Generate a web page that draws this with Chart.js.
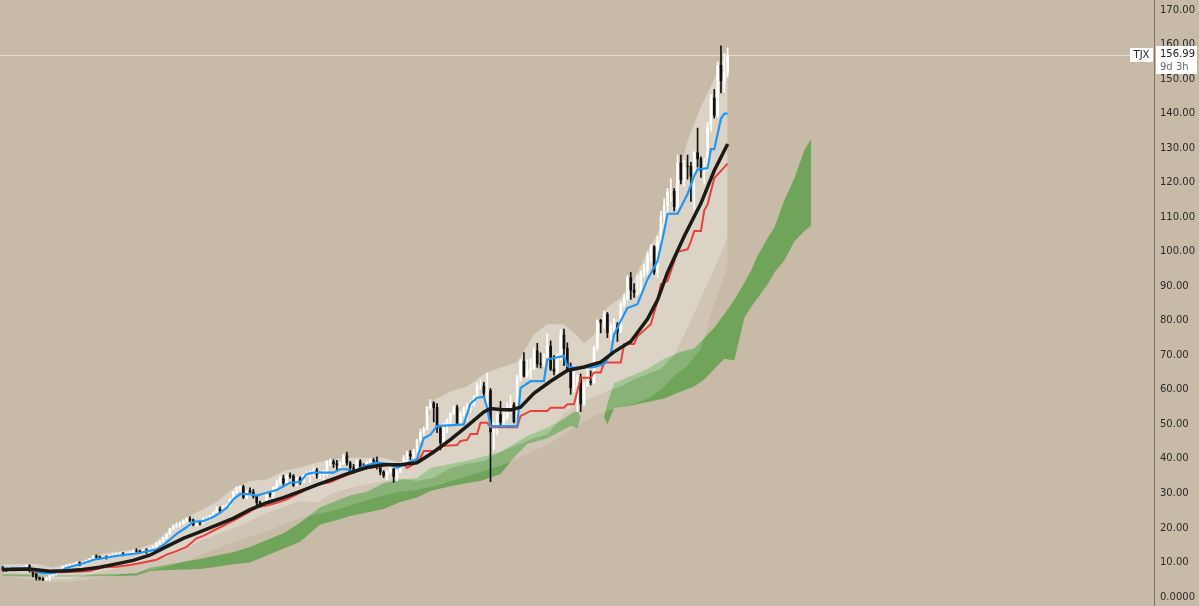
<!DOCTYPE html>
<html>
<head>
<meta charset="utf-8">
<script src="https://cdn.jsdelivr.net/npm/chart.js@4.4.1/dist/chart.umd.min.js"></script>
<style>
html,body{margin:0;padding:0;background:#c7baa6;overflow:hidden}
canvas{display:block}
</style>
</head>
<body>
<canvas id="c" width="1199" height="606"></canvas>
<script>
// ---- DATA (monthly bars) ----
const symbol = 'TJX';
const lastPrice = 156.99;
const countdown = '9d 3h';
const yTicks = [0,10,20,30,40,50,60,70,80,90,100,110,120,130,140,150,160,170];

const barOpen = [
8.6,7.9,7.7,8.3,8.1,8.0,7.9,8.4,9.0,7.6,6.7,5.6,
5.2,5.0,5.5,6.2,6.6,7.3,7.8,8.8,9.1,9.4,9.4,9.9,
9.3,9.8,10.5,11.0,11.8,11.6,11.3,11.6,11.4,12.0,12.2,12.3,
12.5,12.3,12.6,12.8,13.4,13.3,12.9,13.5,13.4,13.8,14.6,15.4,
16.1,17.0,18.2,19.8,20.6,21.1,21.3,22.0,22.6,22.3,20.9,21.6,
21.4,22.6,22.7,23.5,24.5,25.4,25.1,26.2,26.5,28.3,30.4,31.6,
31.9,28.9,30.8,30.4,29.2,27.3,26.8,26.8,29.9,29.7,31.7,33.1,
34.3,33.0,35.2,35.0,32.4,34.4,33.2,35.0,35.6,35.8,36.7,35.4,
35.6,35.6,39.2,39.2,38.6,38.2,38.6,41.0,38.8,37.4,37.0,39.2,
37.6,37.4,39.2,39.6,39.4,37.8,36.2,35.2,36.2,37.0,34.9,36.3,
38.2,40.2,41.4,40.8,42.4,45.2,47.6,48.6,54.9,56.1,54.9,48.9,
44.7,49.7,51.3,53.2,54.9,50.4,52.9,54.5,55.0,55.7,57.6,61.1,
61.1,59.0,59.8,47.8,49.0,52.8,50.6,52.0,54.8,55.7,50.8,63.5,
68.3,64.0,65.6,66.2,71.3,67.5,67.4,68.8,72.6,66.0,65.4,69.4,
75.9,72.0,66.0,60.6,61.3,63.6,55.9,61.2,62.4,62.1,72.2,80.1,
79.6,81.9,76.6,78.4,78.8,76.8,84.8,86.5,92.5,88.9,88.1,88.1,
93.8,94.9,99.1,101.4,94.1,103.1,110.1,113.2,117.3,117.5,113.0,125.7,
120.8,124.8,124.7,121.8,128.7,126.9,123.5,124.5,136.8,144.5,139.5,154.0,
149.5,152.0];

const barHigh = [
8.9,8.2,8.5,8.6,8.5,8.2,8.8,9.3,9.4,7.9,6.9,5.8,
5.6,5.7,6.4,6.9,7.5,8.0,9.0,9.3,9.6,9.7,10.1,10.2,
10.0,10.7,11.2,12.0,12.2,11.9,11.8,11.9,12.2,12.6,12.7,12.8,
12.9,12.9,13.1,13.7,14.0,13.6,13.8,14.0,14.2,14.9,15.6,16.3,
17.3,18.4,20.0,20.9,21.6,21.8,22.4,23.0,23.3,22.6,21.9,22.0,
23.0,23.2,23.7,24.7,26.2,26.1,26.5,27.0,28.6,30.6,32.0,32.2,
32.4,31.0,31.6,31.2,29.4,27.8,27.4,30.2,30.6,32.0,33.9,35.0,
35.3,35.5,36.0,35.5,34.8,34.8,35.4,36.3,36.6,37.4,37.3,36.0,
36.6,39.6,40.0,39.8,39.6,39.0,41.4,42.0,39.3,38.4,39.8,39.8,
38.6,39.4,40.0,40.2,40.6,38.2,36.6,36.6,37.6,37.3,36.8,38.9,
41.0,42.3,42.4,42.8,45.6,48.6,49.2,55.2,57.2,56.6,56.0,49.4,
50.4,51.6,53.4,55.3,55.6,53.6,55.2,56.2,56.8,58.4,62.0,62.9,
62.2,64.9,60.4,50.5,53.4,56.7,53.6,56.2,58.4,56.3,64.2,68.8,
70.8,68.6,69.0,72.2,73.5,70.7,70.4,76.3,74.2,69.9,70.6,77.5,
77.6,73.6,67.8,66.2,64.3,64.6,62.2,66.4,65.5,72.6,80.3,80.4,
82.9,82.4,79.4,80.6,79.5,85.4,87.6,93.1,94.0,90.8,93.2,94.4,
96.4,100.0,102.0,101.8,104.5,111.7,115.3,118.3,121.1,118.3,128.0,128.0,
126.4,128.0,125.9,129.0,135.8,127.5,127.0,137.5,145.5,147.0,155.0,159.6,
157.5,159.0];

const barLow = [
7.5,7.4,7.3,7.8,7.8,7.6,7.6,8.2,7.2,5.8,4.9,4.9,
4.7,4.8,4.8,6.0,6.4,7.1,7.6,8.6,8.8,9.0,9.2,9.1,
9.2,9.6,10.3,10.9,10.8,11.0,11.0,11.0,11.3,11.8,11.9,12.0,
11.9,12.1,12.3,12.7,13.0,12.7,12.8,12.6,13.1,13.3,14.4,15.2,
15.9,16.9,18.1,19.4,20.1,20.3,21.0,21.6,21.8,20.6,20.5,20.9,
21.3,21.9,22.5,23.2,24.3,24.3,24.9,25.6,26.3,28.0,30.1,30.9,
28.5,28.4,29.8,28.6,26.5,26.2,25.9,26.6,29.0,27.9,31.4,32.6,
32.1,32.8,34.4,32.0,32.2,32.6,33.0,34.8,33.2,35.0,34.4,34.3,
33.3,35.0,38.0,37.5,36.8,37.0,38.4,38.2,36.8,35.8,36.2,37.3,
36.9,37.2,38.6,38.5,37.0,35.4,34.6,33.9,35.7,33.2,33.7,36.0,
37.9,37.8,39.8,39.5,42.0,44.8,46.8,48.4,54.2,50.7,47.6,42.6,
44.5,47.6,49.8,52.8,50.0,49.9,52.4,51.1,53.5,55.2,57.4,60.2,
58.1,55.6,33.4,42.7,46.9,49.2,48.9,51.4,53.2,50.4,50.2,62.5,
63.7,63.5,63.2,66.0,66.5,66.3,66.8,68.0,65.6,64.3,64.6,68.6,
67.0,65.2,58.7,59.4,53.7,53.7,55.5,61.0,61.4,61.8,71.4,76.5,
77.9,75.1,74.6,76.7,74.0,76.6,84.0,85.9,86.2,86.8,87.5,87.6,
92.6,93.4,97.0,93.4,92.6,102.0,106.0,110.7,114.5,111.8,112.1,119.6,
119.0,121.0,114.6,112.1,124.5,121.5,119.6,123.5,135.0,138.7,139.0,146.0,
146.2,150.5];

const barClose = [
7.9,7.7,8.3,8.1,8.0,7.9,8.4,9.0,7.6,6.7,5.6,5.2,
5.0,5.5,6.2,6.6,7.3,7.8,8.8,9.1,9.4,9.4,9.9,9.3,
9.8,10.5,11.0,11.8,11.6,11.3,11.6,11.4,12.0,12.2,12.3,12.5,
12.3,12.6,12.8,13.4,13.3,12.9,13.5,13.4,13.8,14.6,15.4,16.1,
17.0,18.2,19.8,20.6,21.1,21.3,22.0,22.6,22.3,20.9,21.6,21.4,
22.6,22.7,23.5,24.5,25.4,25.1,26.2,26.5,28.3,30.4,31.6,31.9,
28.9,30.8,30.4,29.2,27.3,26.8,26.8,29.9,29.7,31.7,33.1,34.3,
33.0,35.2,35.0,32.4,34.4,33.2,35.0,35.6,35.8,36.7,35.4,35.6,
35.6,39.2,39.2,38.6,38.2,38.6,41.0,38.8,37.4,37.0,39.2,37.6,
37.4,39.2,39.6,39.4,37.8,36.2,35.2,36.2,37.0,34.9,36.3,38.2,
40.2,41.4,40.8,42.4,45.2,47.6,48.6,54.9,56.1,54.9,48.9,44.7,
49.7,51.3,53.2,54.9,50.4,52.9,54.5,55.0,55.7,57.6,61.1,61.1,
59.0,59.8,47.8,49.0,52.8,50.6,52.0,54.8,55.7,50.8,63.5,68.3,
64.0,65.6,66.2,71.3,67.5,67.4,68.8,72.6,66.0,65.4,69.4,75.9,
72.0,66.0,60.6,61.3,63.6,55.9,61.2,62.4,62.1,72.2,80.1,79.6,
81.9,76.6,78.4,78.8,76.8,84.8,86.5,92.5,88.9,88.1,88.1,93.8,
94.9,99.1,101.4,94.1,103.1,110.1,113.2,117.3,117.5,113.0,125.7,120.8,
124.8,124.7,121.8,128.7,126.9,123.5,124.5,136.8,144.5,139.5,154.0,149.5,
152.0,156.99];

// moving average (thick black)
const maIdx = [0,8,14,19,24,29,34,39,44,49,54,59,64,69,74,79,84,89,94,99,104,109,114,119,124,129,134,139,144,146,149,152,155,159,164,169,174,179,183,188,193,196,199,204,209,213,217];
const maVal = [7.9,8.1,7.5,7.6,8.0,8.6,9.6,10.6,12.1,14.6,17.0,18.9,20.8,22.8,25.3,27.3,28.8,30.6,32.5,34.2,36.0,37.5,38.3,38.3,38.9,42.0,45.6,49.5,53.6,54.6,54.3,54.2,55.0,59.0,62.5,65.6,66.6,68.0,71.0,74.0,80.5,86.0,94.0,104.5,114.0,123.5,131.2];

// conversion line (blue)
const tenkanIdx = [0,7,9,10,12,15,17,19,21,24,26,28,31,34,37,40,43,46,48,50,52,55,57,60,63,65,67,69,71,74,76,79,82,84,86,89,91,93,99,101,103,105,108,112,116,118,120,122,124,126,128,130,138,140,142,144,145,146,154,155,158,162,163,168,169,171,177,180,182,183,185,187,190,193,196,198,199,202,205,207,208,211,212,213,215,216,217];
const tenkanVal = [8.2,8.4,8.0,7.4,6.9,6.9,7.4,8.4,9.0,9.7,10.4,11.0,11.4,11.9,12.3,12.6,13.2,13.8,15.0,16.6,18.3,20.2,21.8,22.0,23.2,24.4,25.8,28.3,29.8,29.8,29.4,30.2,31.0,32.1,33.1,33.3,35.6,36.0,36.0,37.0,37.0,36.2,37.9,38.9,38.5,37.4,38.2,39.2,40.0,46.0,47.0,49.5,50.0,56.0,57.7,58.0,54.8,49.5,49.5,60.6,62.5,62.5,68.8,69.8,66.9,66.4,66.6,67.5,70.4,76.0,80.0,83.7,84.8,92.0,97.3,106.0,111.0,111.0,116.7,122.0,123.8,124.2,129.7,129.7,138.5,140.0,140.0];

// base line (red)
const kijunIdx = [0,8,10,12,22,26,30,34,38,42,46,49,52,55,58,60,64,68,70,73,76,79,82,85,89,92,95,98,101,104,107,110,113,117,120,121,123,125,126,129,131,136,137,139,140,142,143,145,146,154,155,158,163,164,168,169,171,172,173,176,177,179,180,185,186,189,190,194,196,197,199,202,205,206,207,209,210,211,212,213,215,217];
const kijunVal = [8.0,8.0,7.2,7.0,7.3,7.5,8.6,8.8,9.3,10.0,10.8,12.3,13.3,14.5,17.0,17.7,19.7,21.6,22.6,24.2,25.9,26.5,27.3,28.3,30.2,31.8,32.7,33.2,34.5,35.7,37.0,37.4,37.9,38.5,38.5,37.4,38.5,40.3,42.3,42.3,43.7,44.0,45.2,45.5,47.2,47.2,50.5,50.5,49.2,49.2,52.4,53.9,53.9,54.8,54.8,55.8,55.8,59.7,63.5,63.5,65.0,65.0,67.9,67.9,73.3,73.3,75.5,79.0,85.7,90.6,91.5,100.0,100.7,103.0,106.0,106.0,112.0,113.7,117.5,121.3,123.4,125.5];

// light envelope band (top / middle / bottom edges)
const bandIdx = [0,10,15,20,25,30,35,40,45,50,55,59,64,69,74,79,84,89,94,99,104,109,114,119,124,126,129,134,139,144,149,154,159,163,168,171,174,177,181,185,189,193,197,201,205,209,213,217];
const bandTop = [9.5,9.6,8.5,9.8,10.8,12.6,13.2,13.8,15.5,19.5,23.0,25.0,27.5,31.5,33.6,34.0,36.5,37.5,38.9,40.0,40.3,40.3,40.3,38.9,42.3,47.0,57.0,59.5,61.0,64.6,66.5,68.0,76.0,79.0,79.0,76.5,73.5,76.0,84.0,86.6,92.0,100.0,107.0,118.0,132.0,142.0,150.0,158.0];
const bandMid = [7.0,6.5,5.0,5.2,6.2,7.5,8.5,9.5,10.5,12.0,14.0,16.2,18.0,20.0,22.0,24.4,26.0,27.8,27.3,30.2,31.5,32.6,33.5,34.2,33.6,34.0,34.5,37.4,38.5,39.4,42.0,44.0,46.0,47.0,53.0,55.0,56.8,58.0,59.7,61.0,63.0,64.5,66.0,70.0,78.0,86.6,95.0,104.0];
const bandLow = [6.0,5.0,4.2,4.4,5.0,5.8,6.5,7.2,8.0,9.0,10.5,12.0,14.0,16.0,17.5,19.0,21.0,22.9,24.0,25.0,26.5,28.0,29.5,30.5,31.0,31.5,32.0,33.5,35.0,36.5,38.0,40.0,42.5,44.0,47.0,49.0,51.0,52.5,54.0,55.0,56.0,57.5,60.0,64.0,67.0,72.0,85.0,96.0];

// cloud (leading spans, already shifted forward)
const cloudIdx = [0,20,40,44,50,59,64,69,74,79,84,89,95,99,104,109,114,119,124,128,134,139,143,149,153,157,163,167,170,172,173,180,181,183,188,193,198,203,207,210,213,216,219,222,224,226,227,229,231,234,237,240,242];
const spanA = [6.6,6.4,6.8,8.5,9.5,11.0,12.0,13.0,14.5,16.5,18.5,21.5,26.0,27.5,29.5,30.5,33.0,34.0,34.5,37.4,38.5,39.5,40.5,42.0,44.3,46.6,49.0,51.0,53.0,54.0,52.0,52.0,56.0,62.0,64.0,66.0,69.0,71.0,72.0,75.0,78.0,82.0,86.0,91.0,94.4,99.0,100.5,104.0,107.0,115.0,121.3,129.5,132.6];
const spanB = [6.0,5.9,6.2,7.5,7.8,8.1,8.8,9.5,10.0,12.0,14.0,16.0,21.0,22.0,23.5,24.5,25.5,27.5,28.8,30.7,32.1,33.0,33.6,35.6,40.3,44.3,46.0,48.0,49.5,49.0,52.0,52.0,50.0,54.7,55.5,56.5,57.5,59.5,61.0,63.0,66.0,69.0,68.5,80.8,84.0,86.6,88.0,90.6,94.0,97.5,103.0,106.0,107.5];

// ---- build ----
const pts = (xs, ys) => xs.map((x, i) => ({x: x, y: ys[i]}));
const bodyData = barClose.map((c, i) => ({x: i, y: [barOpen[i], c]}));
const wickData = barHigh.map((h, i) => ({x: i, y: [barLow[i], h]}));
const upDown = barClose.map((c, i) => c >= barOpen[i] ? '#ffffff' : '#111111');

const BG = '#c7baa6';

const bgPlugin = {
  id: 'bg',
  beforeDraw(chart) {
    const ctx = chart.ctx;
    ctx.save();
    ctx.fillStyle = BG;
    ctx.fillRect(0, 0, chart.width, chart.height);
    ctx.restore();
  },
  beforeDatasetsDraw(chart) {
    const ctx = chart.ctx, a = chart.chartArea;
    const y = Math.round(chart.scales.y.getPixelForValue(lastPrice)) + 0.5;
    ctx.save();
    ctx.strokeStyle = 'rgba(230,224,214,0.9)';
    ctx.lineWidth = 1;
    ctx.beginPath();
    ctx.moveTo(a.left, y);
    ctx.lineTo(a.right, y);
    ctx.stroke();
    ctx.restore();
  },
  afterDraw(chart) {
    const ctx = chart.ctx, a = chart.chartArea;
    const y = Math.round(chart.scales.y.getPixelForValue(lastPrice));
    ctx.save();
    ctx.fillStyle = '#ffffff';
    ctx.fillRect(a.right - 24, y - 7, 23, 14);
    ctx.fillStyle = '#1e1e1e';
    ctx.font = '10px "DejaVu Sans"';
    ctx.textAlign = 'center';
    ctx.textBaseline = 'middle';
    ctx.fillText(symbol, a.right - 12.5, y);
    ctx.fillStyle = '#ffffff';
    ctx.fillRect(a.right + 2, y - 9, 41, 28);
    ctx.textAlign = 'left';
    ctx.fillStyle = '#1e1e1e';
    ctx.fillText(lastPrice.toFixed(2), a.right + 6, y - 1);
    ctx.fillStyle = '#6a6a6a';
    ctx.fillText(countdown, a.right + 6, y + 12);
    ctx.restore();
  }
};

const lineBase = {type: 'line', pointRadius: 0, pointHoverRadius: 0, tension: 0};

new Chart(document.getElementById('c'), {
  type: 'line',
  data: {
    datasets: [
      Object.assign({}, lineBase, {label: 'bandTop', data: pts(bandIdx, bandTop), borderWidth: 0, borderColor: 'rgba(0,0,0,0)', fill: 1, backgroundColor: 'rgba(255,255,255,0.36)', order: 10}),
      Object.assign({}, lineBase, {label: 'bandMid', data: pts(bandIdx, bandMid), borderWidth: 0, borderColor: 'rgba(0,0,0,0)', fill: 2, backgroundColor: 'rgba(255,255,255,0.17)', order: 10}),
      Object.assign({}, lineBase, {label: 'bandLow', data: pts(bandIdx, bandLow), borderWidth: 0, borderColor: 'rgba(0,0,0,0)', fill: false, order: 10}),
      Object.assign({}, lineBase, {label: 'spanA', data: pts(cloudIdx, spanA), borderWidth: 0, borderColor: 'rgba(0,0,0,0)', fill: 4, backgroundColor: 'rgba(88,158,70,0.78)', order: 12}),
      Object.assign({}, lineBase, {label: 'spanB', data: pts(cloudIdx, spanB), borderWidth: 0, borderColor: 'rgba(0,0,0,0)', fill: false, order: 12}),
      {type: 'bar', label: 'wick', data: wickData, backgroundColor: upDown, borderWidth: 0, barThickness: 1, grouped: false, order: 6},
      {type: 'bar', label: 'body', data: bodyData, backgroundColor: upDown, borderWidth: 0, barThickness: 2, grouped: false, order: 5},
      Object.assign({}, lineBase, {label: 'kijun', data: pts(kijunIdx, kijunVal), borderColor: '#e8403d', borderWidth: 2, fill: false, order: 3}),
      Object.assign({}, lineBase, {label: 'tenkan', data: pts(tenkanIdx, tenkanVal), borderColor: '#2196f3', borderWidth: 2.2, fill: false, order: 2}),
      Object.assign({}, lineBase, {label: 'ma', data: pts(maIdx, maVal), borderColor: '#1c1a17', borderWidth: 3.5, fill: false, order: 1})
    ]
  },
  options: {
    responsive: false,
    animation: false,
    devicePixelRatio: 1,
    layout: {padding: 0, autoPadding: false},
    plugins: {legend: {display: false}, tooltip: {enabled: false}},
    scales: {
      x: {type: 'linear', min: -0.856, max: 344.65, offset: false, display: false},
      y: {
        type: 'linear', position: 'right', min: -2.6, max: 172.9,
        grid: {display: false, drawTicks: false},
        border: {display: true, color: '#7d7568', width: 1},
        afterBuildTicks: s => { s.ticks = yTicks.map(v => ({value: v})); },
        afterFit: s => { s.width = 45; s.paddingTop = 0; s.paddingBottom = 0; },
        ticks: {
          padding: 6, color: '#2b2b2b',
          font: {family: '"DejaVu Sans"', size: 10},
          callback: v => v === 0 ? '0.0000' : Number(v).toFixed(2)
        }
      }
    }
  },
  plugins: [bgPlugin]
});
</script>
</body>
</html>
